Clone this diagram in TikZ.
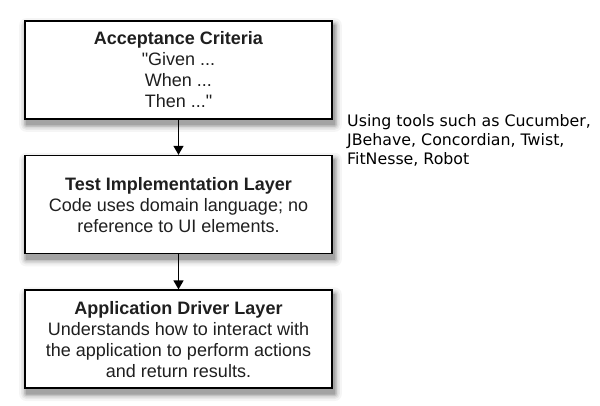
\documentclass[tikz,border=0pt]{standalone}
\usepackage{fontspec}
\setmainfont{Liberation Sans}
\newfontfamily\notefont{DejaVu Sans}
\usepackage{tikz}
\usetikzlibrary{positioning,calc,backgrounds,arrows.meta}

\begin{document}
\begin{tikzpicture}[%Layers
  x=1pt, y=-1pt, node distance=35pt,
  layernode/.style={rectangle, draw=black, line width=1.6pt, fill=white,
    minimum width=307pt, minimum height=98pt, inner sep=0pt,
    align=center, text=black!88, font=\fontsize{18}{21}\selectfont},
  notenode/.style={anchor=west, inner sep=0pt, align=left,
    font=\notefont\fontsize{15.8}{19}\selectfont},
  flow/.style={-{Triangle[length=9pt,width=10pt]}, line width=1.4pt}
]
\useasboundingbox (0,0) rectangle (600,405);

%Nodes
\node[layernode] (criteria) at (178.5,70)
  {\textbf{Acceptance Criteria}\\\textquotedbl Given ...\\When ...\\Then ...\textquotedbl};
\node[layernode, below=of criteria] (testimpl)
  {\textbf{Test Implementation Layer}\\Code uses domain language; no\\reference to UI elements.};
\node[layernode, below=of testimpl] (driver)
  {\textbf{Application Driver Layer}\\Understands how to interact with\\the application to perform actions\\and return results.};
\node[notenode] (tools) at (347,140)
  {Using tools such as Cucumber,\\JBehave, Concordian, Twist,\\FitNesse, Robot};

%Shadows (soft, in steps of grey)
\begin{scope}[on background layer]
  \foreach \n in {criteria,testimpl,driver}
    \foreach \r/\g in {7/4,5/9,3.5/15,2/24,0.5/36}
      \fill[black!\g, rounded corners=\r pt]
        ($(\n.north west)+(2-\r,5-\r)$) rectangle ($(\n.south east)+(2+\r,5+\r)$);
\end{scope}

%Arrows
\draw[flow] (criteria) -- (testimpl);
\draw[flow] (testimpl) -- (driver);
\end{tikzpicture}
\end{document}
